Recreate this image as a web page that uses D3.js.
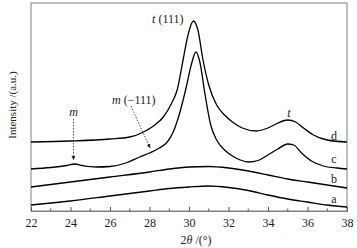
<!DOCTYPE html>
<html lang="en">
<head>
<meta charset="UTF-8">
<title>XRD</title>
<style>
  body { margin: 0; background: #fff; }
  text { font-family: "Liberation Serif", "DejaVu Serif", serif; fill: #222; }
</style>
</head>
<body>
<div id="chart"></div>
<script src="https://cdn.jsdelivr.net/npm/d3@7/dist/d3.min.js"></script>
<script>
// 2theta (deg) and intensity (a.u.)
var thetaD = [22, 24, 26, 27, 27.7, 28.2, 28.7, 29.1, 29.4, 29.7, 29.95, 30.22, 30.45, 30.71, 31.0, 31.4, 31.8, 32.2, 32.7, 33.4, 34.0, 34.5, 35.0, 35.4, 35.8, 36.3, 37, 38];
var intD   = [69, 70, 72, 74, 79, 85, 94, 107, 121, 151, 176, 190, 181, 151, 126, 106, 96, 89, 83, 80, 83, 88, 91, 89, 83, 76, 71, 69];

var thetaC = [22, 23, 23.8, 24.2, 24.6, 25.3, 26, 26.8, 27.5, 28.0, 28.5, 28.9, 29.2, 29.5, 29.85, 30.1, 30.35, 30.55, 30.8, 31.1, 31.4, 31.8, 32.2, 32.6, 33.0, 33.5, 34.0, 34.5, 35.0, 35.3, 35.7, 36.2, 36.8, 37.5, 38];
var intC   = [42, 43.5, 45.5, 47, 45.5, 44, 44.5, 48, 54, 58, 63, 69, 79, 96, 123, 145, 159, 149, 118, 86, 71, 61, 55, 51, 49, 50.5, 56, 62, 67, 66, 58, 50, 45, 43, 42];

var thetaB = [22, 24, 26, 28, 29, 30, 31, 32, 33, 34, 35, 36, 37, 38];
var intB   = [24, 29, 34, 39, 42, 44, 44.5, 43, 40, 36, 32, 29, 26, 23];

var thetaA = [22, 24, 26, 28, 29, 30, 31, 32, 33, 34, 35, 36, 37, 38];
var intA   = [6, 10, 15, 20, 22.5, 24, 25, 23.5, 20.5, 16, 12, 9, 6, 4];

var curveNames = ["a", "b", "c", "d"];
var labelTheta = 37.34;
var labelInt = [8, 28, 48, 71];

var xTicks = [22, 24, 26, 28, 30, 32, 34, 36, 38];
var xMinor = [23, 25, 27, 29, 31, 33, 35, 37];

var width = 357, height = 248;
var plotL = 31, plotR = 347, plotT = 3, plotB = 211;

var svg = d3.select("#chart").append("svg")
    .attr("width", width)
    .attr("height", height);

var x = d3.scaleLinear().domain([22, 38]).range([plotL, plotR]);
var y = d3.scaleLinear().domain([0, 208]).range([plotB, plotT]);

// frame
svg.append("rect")
    .attr("x", plotL).attr("y", plotT)
    .attr("width", plotR - plotL).attr("height", plotB - plotT)
    .attr("fill", "none").attr("stroke", "#808080").attr("stroke-width", 1);

// x axis, ticks inward
var gx = svg.append("g").attr("transform", "translate(0," + plotB + ")");
gx.call(d3.axisBottom(x).tickValues(xTicks).tickSize(-4).tickPadding(7).tickFormat(d3.format("d")));
gx.select(".domain").attr("stroke", "#808080");
gx.selectAll(".tick line").attr("stroke", "#555");
gx.selectAll(".tick text")
    .style("font-family", "'Liberation Serif', serif")
    .style("font-size", "12px").attr("fill", "#222");
gx.selectAll(".minor").data(xMinor).enter().append("line")
    .attr("class", "minor")
    .attr("x1", function(d){ return x(d); }).attr("x2", function(d){ return x(d); })
    .attr("y1", 0).attr("y2", -2.5)
    .attr("stroke", "#555");

// axis titles
var xt = svg.append("text")
    .attr("x", (plotL + plotR) / 2 + 7).attr("y", 244)
    .attr("text-anchor", "middle").style("font-size", "12px");
xt.append("tspan").text("2");
xt.append("tspan").style("font-style", "italic").text("θ");
xt.append("tspan").text(" /(°)");

svg.append("text")
    .attr("transform", "translate(16,105) rotate(-90)")
    .attr("text-anchor", "middle").style("font-size", "11px")
    .text("Intensity /(a.u.)");

// curves
var series = [
    {t: thetaA, v: intA},
    {t: thetaB, v: intB},
    {t: thetaC, v: intC},
    {t: thetaD, v: intD}
];
var line = d3.line()
    .x(function(d){ return x(d[0]); })
    .y(function(d){ return y(d[1]); })
    .curve(d3.curveMonotoneX);

svg.selectAll(".curve").data(series).enter().append("path")
    .attr("class", "curve")
    .attr("d", function(s){ return line(d3.zip(s.t, s.v)); })
    .attr("fill", "none").attr("stroke", "#000").attr("stroke-width", 1.3);

svg.selectAll(".clabel").data(curveNames).enter().append("text")
    .attr("class", "clabel")
    .attr("x", x(labelTheta)).attr("y", function(d, i){ return y(labelInt[i]); })
    .attr("text-anchor", "middle").style("font-size", "12px")
    .text(function(d){ return d; });

// annotations
svg.append("defs").append("marker")
    .attr("id", "arr").attr("viewBox", "0 0 6 6")
    .attr("refX", 6).attr("refY", 3)
    .attr("markerWidth", 5).attr("markerHeight", 5)
    .attr("orient", "auto")
    .append("path").attr("d", "M0,0 L6,3 L0,6 Z").attr("fill", "#222");

var arrows = [
    {x1: 24.15, y1: 92, x2: 24.15, y2: 51},
    {x1: 27.06, y1: 105, x2: 28.03, y2: 63}
];
svg.selectAll(".arrow").data(arrows).enter().append("line")
    .attr("class", "arrow")
    .attr("x1", function(d){ return x(d.x1); }).attr("y1", function(d){ return y(d.y1); })
    .attr("x2", function(d){ return x(d.x2); }).attr("y2", function(d){ return y(d.y2); })
    .attr("stroke", "#222").attr("stroke-width", 0.8)
    .attr("stroke-dasharray", "1.5,1.5")
    .attr("marker-end", "url(#arr)");

function label(t, v, italicPart, rest, anchor) {
    var tx = svg.append("text")
        .attr("x", x(t)).attr("y", y(v))
        .attr("text-anchor", anchor || "start")
        .style("font-size", "12px");
    tx.append("tspan").style("font-style", "italic").text(italicPart);
    if (rest) tx.append("tspan").text(rest);
}
label(28.13, 188, "t", " (111)");
label(26.1, 107, "m", " (\u2212111)");
label(24.15, 95, "m", null, "middle");
label(35.06, 94, "t", null, "middle");
</script>
</body>
</html>
